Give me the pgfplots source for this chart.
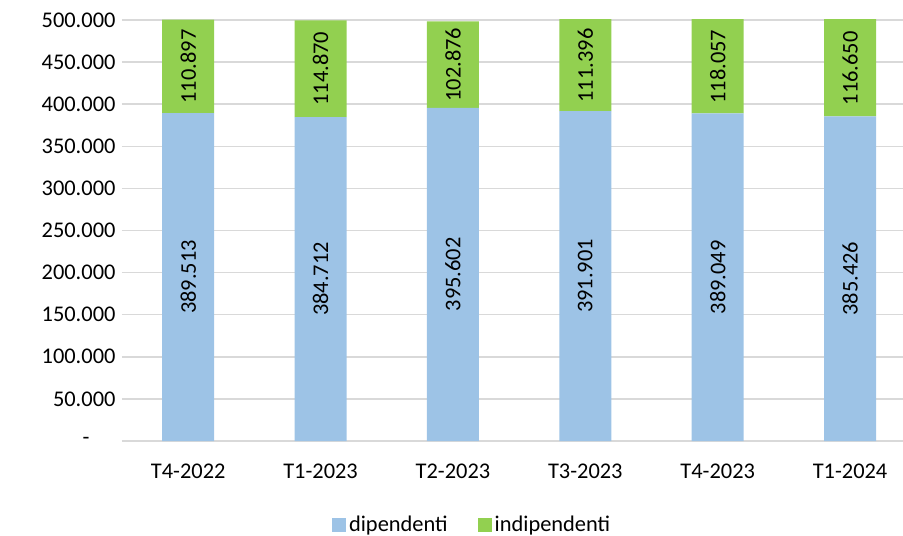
\documentclass[border=0pt]{standalone}
\usepackage{fontspec}
\setmainfont{Carlito}
\usepackage{pgfplots}
\pgfplotsset{compat=1.18}
\definecolor{dip}{HTML}{9DC3E6}
\definecolor{indip}{HTML}{92D050}
\definecolor{gridc}{HTML}{D9D9D9}
\newcommand{\lbl}{\fontsize{22.5}{26}\selectfont}

\pgfplotsset{
  common/.style={
    scale only axis, width=781bp, height=421bp,
    at={(0,0)}, anchor=south west,
    xmin=-0.5, xmax=5.4, ymin=0, ymax=500000,
    scaled y ticks=false,
  },
}

\begin{document}
\begin{tikzpicture}
\begin{axis}[
  common,
  ybar stacked, bar width=52bp,
  xtick={0,...,5},
  xticklabels={T4-2022,T1-2023,T2-2023,T3-2023,T4-2023,T1-2024},
  ytick={0,50000,...,500000},
  yticklabels={-\hspace*{26bp},50.000,100.000,150.000,200.000,250.000,300.000,350.000,400.000,450.000,500.000},
  major tick length=0pt,
  axis line style={draw=none},
  ymajorgrids, grid style={gridc, line width=1.4bp},
  tick label style={font=\lbl, text=black},
  yticklabel style={xshift=-3bp},
  xticklabel style={yshift=-19bp},
  legend style={at={(0.449,-0.199)}, anchor=center, draw=none, fill=none,
    legend columns=2, font=\lbl,
    /tikz/every even column/.append style={column sep=27bp},
    nodes={inner xsep=3bp}},
  legend image code/.code={\fill[#1] (0bp,-7bp) rectangle (14bp,7bp);},
]
\addplot[fill=dip, draw=none] coordinates {
  (0,389513) (1,384712) (2,395602) (3,391901) (4,389049) (5,385426)};
\addlegendentry{dipendenti}
\addplot[fill=indip, draw=none] coordinates {
  (0,110897) (1,114870) (2,102876) (3,111396) (4,118057) (5,116650)};
\addlegendentry{indipendenti}
\end{axis}
\begin{axis}[common, hide axis]
\addplot[draw=none, nodes near coords, point meta=explicit symbolic,
  nodes near coords style={rotate=90, anchor=center, font=\lbl, text=black}]
  coordinates {
  (0,194756) [389.513] (1,192356) [384.712] (2,197801) [395.602]
  (3,195950) [391.901] (4,194524) [389.049] (5,192713) [385.426]};
\addplot[draw=none, nodes near coords, point meta=explicit symbolic,
  nodes near coords style={rotate=90, anchor=center, font=\lbl, text=black}]
  coordinates {
  (0,444756) [110.897] (1,442147) [114.870] (2,447040) [102.876]
  (3,445950) [111.396] (4,444524) [118.057] (5,442713) [116.650]};
\end{axis}
\pgfresetboundingbox
\path (-122bp,-95bp) rectangle (781bp,441bp);
\end{tikzpicture}
\end{document}
